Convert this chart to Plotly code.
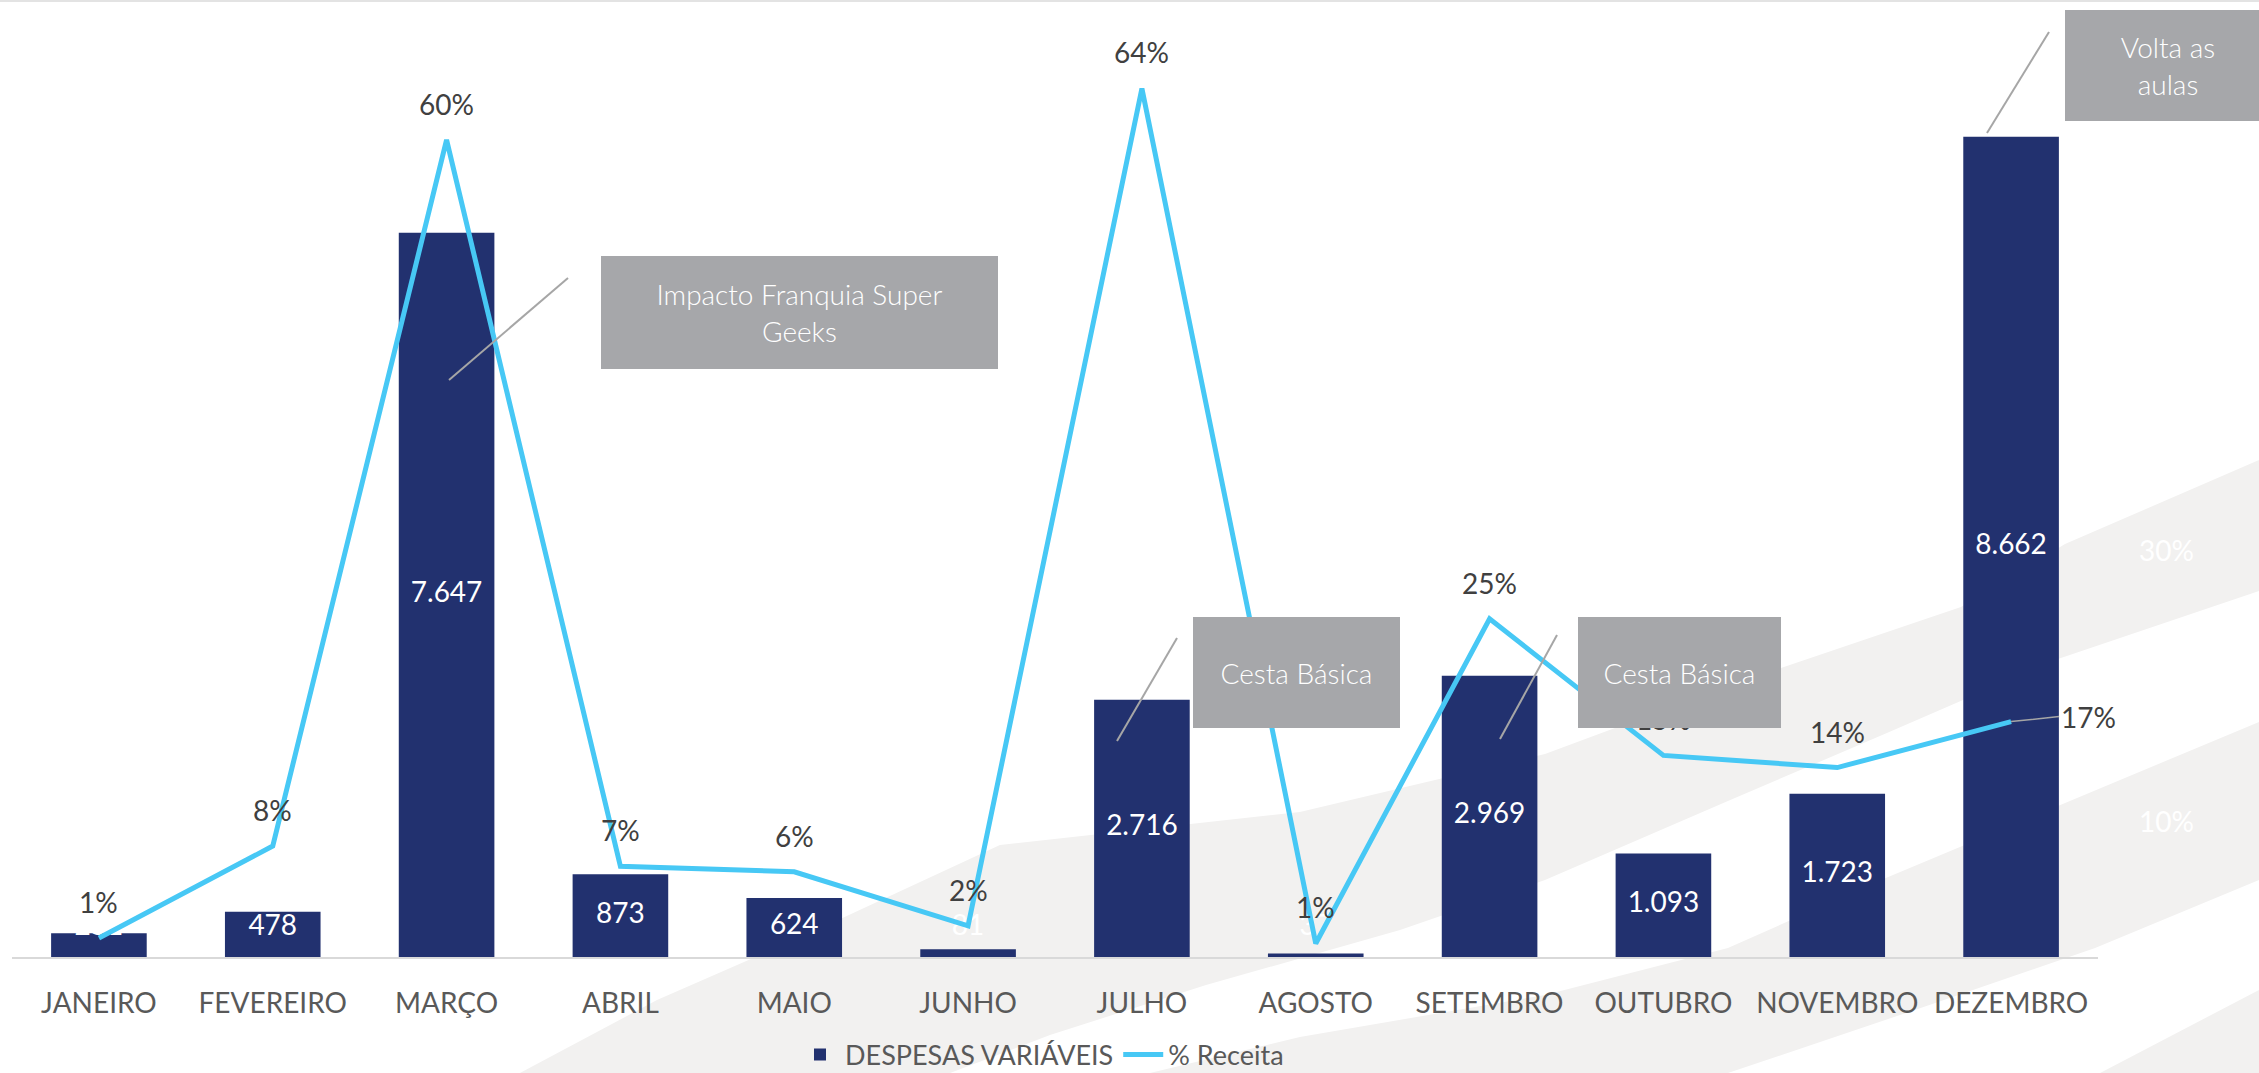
import plotly.graph_objects as go

# ---------------- data ----------------
meses = ["JANEIRO", "FEVEREIRO", "MARÇO", "ABRIL", "MAIO", "JUNHO", "JULHO",
         "AGOSTO", "SETEMBRO", "OUTUBRO", "NOVEMBRO", "DEZEMBRO"]
despesas = [251, 478, 7647, 873, 624, 81, 2716, 37, 2969, 1093, 1723, 8662]
receita_pct = [0.014, 0.082, 0.604, 0.067, 0.063, 0.023, 0.642, 0.010,
               0.250, 0.149, 0.140, 0.174]
pct_ticks = [0, 0.1, 0.2, 0.3, 0.4, 0.5, 0.6, 0.7]
callouts = [
    ("Impacto Franquia Super<br>Geeks", (601, 256, 998, 369), (449, 380, 568, 278)),
    ("Cesta Básica", (1193, 617, 1400, 728), (1117, 741, 1177, 638)),
    ("Cesta Básica", (1578, 617, 1781, 728), (1500, 739, 1557, 635)),
    ("Volta as<br>aulas", (2065, 10, 2271, 121), (1987, 133, 2049, 32)),
]

# ---------------- geometry ----------------
W, H = 2259, 1073
L, R, T, B = 12, 2098, 10, 957


def px(x):
    return (x - L) / (R - L)


def py(y):
    return (B - y) / (B - T)


FONT = "Lato"
FONT_LIGHT = "Lato Light, Lato"
NAVY = "#22316f"
BLUE = "#47c8f5"
GRAYBOX = "#a6a7aa"
BAND = "#f2f1f0"


def fmt_thousands(v):
    return f"{v:,}".replace(",", ".")


fig = go.Figure()

fig.add_trace(go.Bar(
    x=meses, y=despesas, name="DESPESAS VARIÁVEIS",
    marker=dict(color=NAVY, line=dict(width=0)),
    hoverinfo="x+y",
))
fig.add_trace(go.Scatter(
    x=meses, y=[max(v / 2, 310) for v in despesas], mode="text",
    text=[fmt_thousands(v) for v in despesas],
    textfont=dict(family=FONT, size=28, color="white"),
    showlegend=False, hoverinfo="skip",
))
fig.add_trace(go.Scatter(
    x=meses, y=receita_pct, yaxis="y2", mode="lines", name="% Receita",
    line=dict(color=BLUE, width=5),
))

# ---------------- background bands ----------------
def path(points):
    return "M " + " L ".join(f"{px(x):.4f},{py(y):.4f}" for x, y in points) + " Z"


bands = [
    [(520, 1073), (657, 1000), (810, 933), (1000, 845), (1300, 812), (1545, 754),
     (1728, 686), (1961, 607), (2065, 544), (2259, 460), (2259, 591), (2058, 659),
     (1887, 733), (1728, 801), (1545, 880), (1400, 930), (1206, 985), (1050, 1035),
     (950, 1073)],
    [(1150, 1073), (1300, 1037), (1545, 995), (1728, 948), (1881, 880), (2058, 806),
     (2259, 722), (2259, 880), (2095, 948), (1912, 1011), (1728, 1073)],
    [(2100, 1073), (2259, 990), (2259, 1073)],
]
shapes = []
for b in bands:
    shapes.append(dict(type="path", xref="paper", yref="paper", path=path(b),
                       fillcolor=BAND, line=dict(width=0), layer="below"))

shapes.append(dict(type="line", xref="paper", yref="paper", x0=px(0), x1=px(W),
                   y0=py(1), y1=py(1), line=dict(color="#e3e3e3", width=2)))

for _, _, (x0, y0, x1, y1) in callouts:
    shapes.append(dict(type="line", xref="paper", yref="paper",
                       x0=px(x0), y0=py(y0), x1=px(x1), y1=py(y1),
                       line=dict(color="#a6a6a6", width=2)))

# ---------------- annotations ----------------
annotations = []
last = len(meses) - 1
for i, (m, p) in enumerate(zip(meses, receita_pct)):
    label = f"{round(p * 100)}%"
    if i == last:
        annotations.append(dict(
            x=m, y=p, xref="x", yref="y2", text=label, showarrow=True,
            arrowhead=0, arrowwidth=1.5, arrowcolor="#a6a6a6", standoff=0,
            ax=48, ay=-5, xanchor="left", yanchor="middle",
            font=dict(family=FONT, size=28, color="#404040"),
        ))
    else:
        annotations.append(dict(
            x=m, y=p, xref="x", yref="y2", text=label, showarrow=False,
            yshift=36, font=dict(family=FONT, size=28, color="#404040"),
        ))

for text, (x0, y0, x1, y1), _ in callouts:
    annotations.append(dict(
        x=px((x0 + x1) / 2), y=py((y0 + y1) / 2), xref="paper", yref="paper",
        xanchor="center", yanchor="middle", showarrow=False,
        width=x1 - x0, height=y1 - y0, bgcolor=GRAYBOX, borderpad=0,
        borderwidth=0, align="center", valign="middle", text=text,
        font=dict(family=FONT_LIGHT, size=28, color="white", weight=300),
    ))

fig.update_layout(
    width=W, height=H,
    margin=dict(l=L, r=W - R, t=T, b=H - B, autoexpand=False),
    paper_bgcolor="white", plot_bgcolor="rgba(0,0,0,0)",
    bargap=0.45,
    font=dict(family=FONT, color="#595959"),
    xaxis=dict(
        range=[-0.5, len(meses) - 0.5],
        showline=True, linecolor="#d9d9d9", linewidth=2, ticks="",
        tickfont=dict(family=FONT, size=28, color="#595959"),
        ticklabelstandoff=20, showgrid=False, zeroline=False,
    ),
    yaxis=dict(range=[0, 10000], showticklabels=False, showgrid=False,
               zeroline=False, showline=False),
    yaxis2=dict(range=[0, 0.70], overlaying="y", side="right",
                tickvals=pct_ticks, tickformat=".0%", showgrid=False,
                zeroline=False, showline=False, ticks="",
                tickfont=dict(family=FONT, size=28, color="white"),
                ticklabelstandoff=40),
    legend=dict(orientation="h", x=px(1042), xanchor="center", y=py(1055),
                yanchor="middle", font=dict(family=FONT, size=27, color="#595959"),
                bgcolor="rgba(0,0,0,0)", itemwidth=40),
    shapes=shapes, annotations=annotations, showlegend=True,
)

fig.write_html(
    "out.html",
    config={"displayModeBar": False},
    post_script="document.body.style.margin='0px';document.body.style.overflow='hidden';",
)
